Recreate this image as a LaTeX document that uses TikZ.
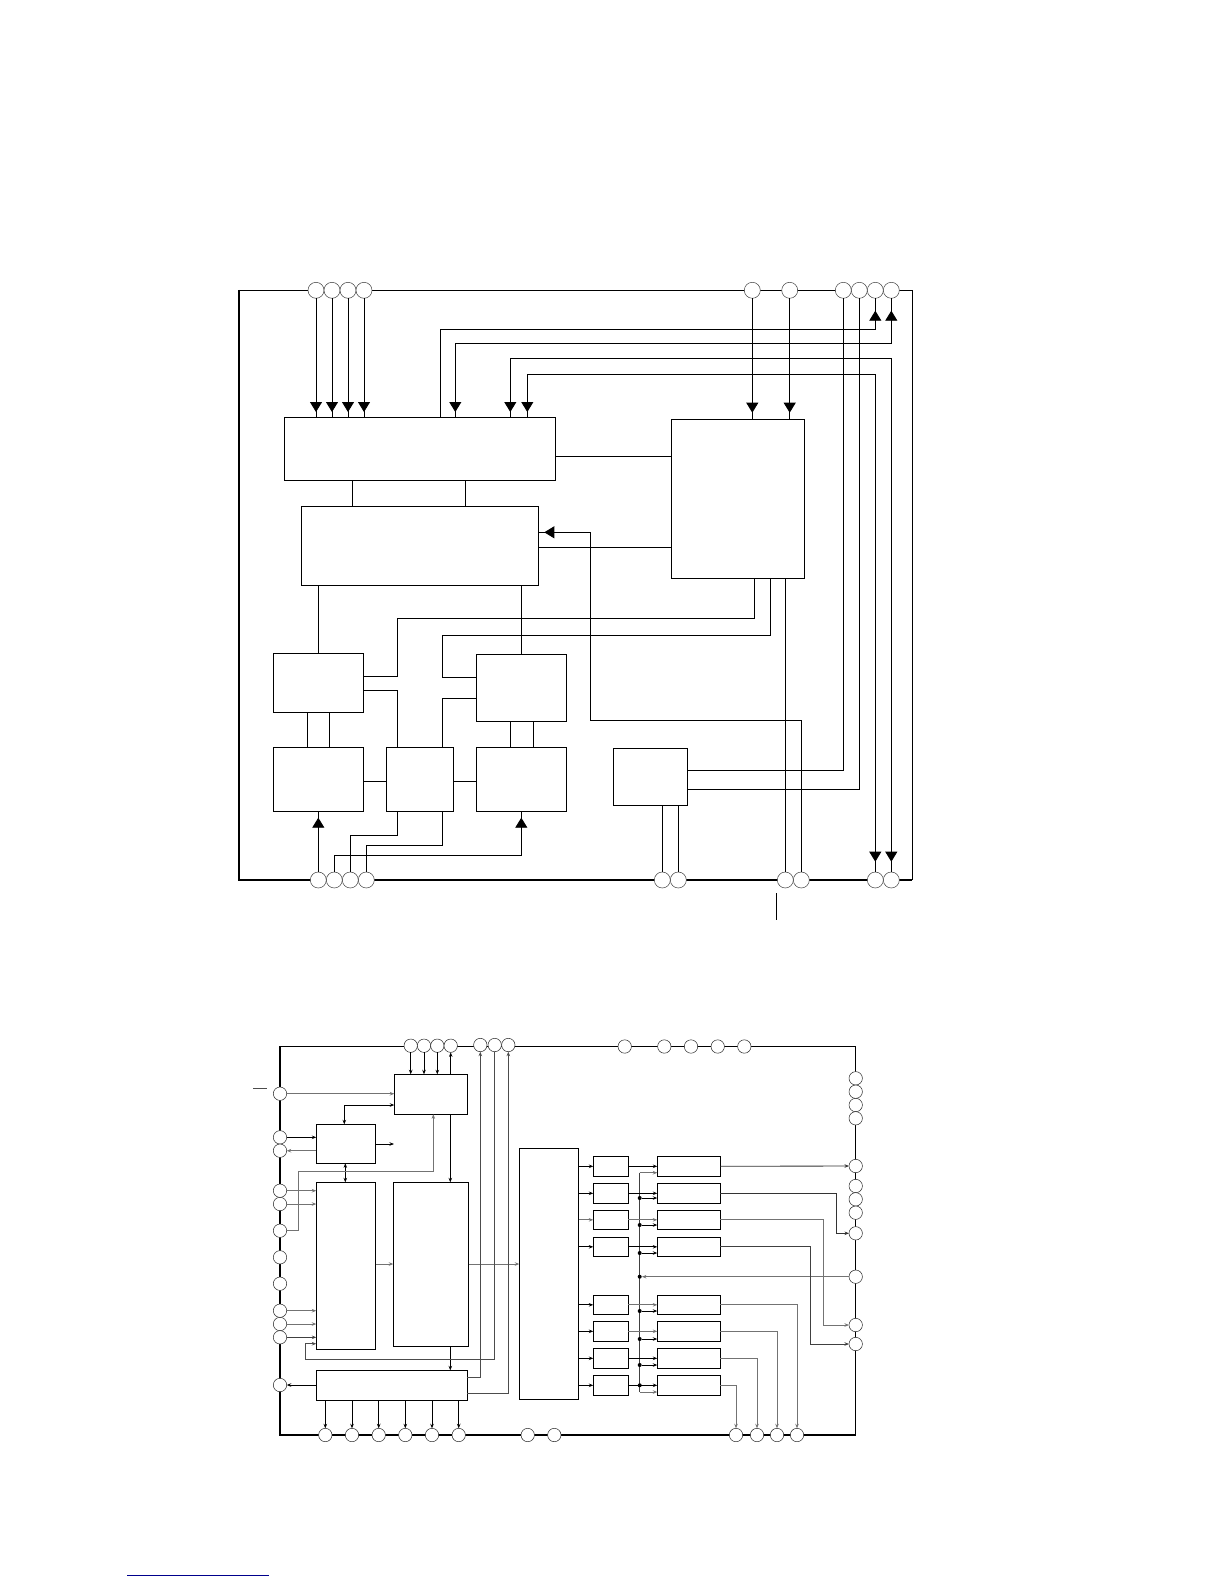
\documentclass[tikz,border=0pt]{standalone}
\usepackage{xcolor}
\definecolor{wiregray}{RGB}{115, 115, 115}
\definecolor{rulenavy}{RGB}{0, 0, 140}
\usetikzlibrary{arrows.meta, calc}
\tikzset{
    pad/.style={circle, draw=black!75, line width=0.5pt, fill=white, inner sep=0pt, outer sep=0pt, minimum size=16pt},
    smallpad/.style={pad, draw=black!85, minimum size=13.4pt},
    blk/.style={draw, line width=0.9pt, fill=white, inner sep=0pt, outer sep=0pt},
    wire/.style={line width=0.85pt},
    gwire/.style={line width=0.85pt, wiregray},
    headend/.style={postaction={draw, shorten >=#1, -{Triangle[width=12pt, length=10pt]}}},
    headstart/.style={postaction={draw, shorten <=#1, {Triangle[width=12pt, length=10pt]}-}},
    sarrow/.style={-{Stealth[length=4.5pt, width=3.5pt]}},
    darrow/.style={{Stealth[length=4.5pt, width=3.5pt]}-{Stealth[length=4.5pt, width=3.5pt]}},
    joint/.style={circle, fill=black, inner sep=0pt, minimum size=4pt}
}
\begin{document}
\begin{tikzpicture}[x=1pt, y=-1pt]
    \useasboundingbox (0, 0) rectangle (1224, 1584);

    % upper chip
    \draw[line width=0.9pt] (239, 290.3) -- (912.3, 290.3) -- (912.3, 880);
    \draw[line width=1.9pt] (239, 289.8) -- (239, 880) -- (912.3, 880);

    \node[pad] (ta1) at (316, 290.3) {};
    \node[pad] (ta2) at (332, 290.3) {};
    \node[pad] (ta3) at (348, 290.3) {};
    \node[pad] (ta4) at (364, 290.3) {};
    \node[pad] (tb1) at (752.3, 290.3) {};
    \node[pad] (tb2) at (789.7, 290.3) {};
    \node[pad] (tc1) at (843.3, 290.3) {};
    \node[pad] (tc2) at (859.3, 290.3) {};
    \node[pad] (tc3) at (875.3, 290.3) {};
    \node[pad] (tc4) at (891.3, 290.3) {};
    \node[pad] (ba1) at (318.3, 880) {};
    \node[pad] (ba2) at (334.3, 880) {};
    \node[pad] (ba3) at (350.3, 880) {};
    \node[pad] (ba4) at (366.3, 880) {};
    \node[pad] (bb1) at (662.3, 880) {};
    \node[pad] (bb2) at (678.3, 880) {};
    \node[pad] (bc1) at (785.3, 880) {};
    \node[pad] (bc2) at (801.3, 880) {};
    \node[pad] (bd1) at (875.3, 880) {};
    \node[pad] (bd2) at (891.3, 880) {};

    \node[blk, minimum width=271pt, minimum height=63pt] (boxa) at (419.8, 448.8) {};
    \node[blk, minimum width=237pt, minimum height=79pt] (boxb) at (419.8, 545.8) {};
    \node[blk, minimum width=133pt, minimum height=159pt] (boxc) at (737.8, 498.8) {};
    \node[blk, minimum width=90pt, minimum height=59pt] (boxd) at (318.3, 682.8) {};
    \node[blk, minimum width=90pt, minimum height=64pt] (boxe) at (318.3, 779.3) {};
    \node[blk, minimum width=67pt, minimum height=64pt] (boxf) at (419.8, 779.3) {};
    \node[blk, minimum width=90pt, minimum height=67pt] (boxg) at (521.3, 687.8) {};
    \node[blk, minimum width=90pt, minimum height=64pt] (boxh) at (521.3, 779.3) {};
    \node[blk, minimum width=74pt, minimum height=57pt] (boxi) at (650.3, 776.8) {};

    \draw[wire, headend=5.3pt] (ta1.south) -- (ta1 |- boxa.north);
    \draw[wire, headend=5.3pt] (ta2.south) -- (ta2 |- boxa.north);
    \draw[wire, headend=5.3pt] (ta3.south) -- (ta3 |- boxa.north);
    \draw[wire, headend=5.3pt] (ta4.south) -- (ta4 |- boxa.north);
    \draw[wire, headend=6.6pt] (tb1.south) -- (tb1 |- boxc.north);
    \draw[wire, headend=6.6pt] (tb2.south) -- (tb2 |- boxc.north);
    \draw[wire, headend=12.4pt] (440.7, 0 |- boxa.north) |- (tc3 |- 0, 329.3) -- (tc3.south);
    \draw[wire, headend=5.3pt, headstart=12.4pt] (tc4.south) |- (455.3, 343.3) -- (455.3, 0 |- boxa.north);
    \draw[wire, headend=5.3pt, headstart=10.3pt] (bd2.north) |- (510.3, 358.3) -- (510.3, 0 |- boxa.north);
    \draw[wire, headend=5.3pt, headstart=10.3pt] (bd1.north) |- (527.3, 374.3) -- (527.3, 0 |- boxa.north);
    \draw[wire] (tc1.south) |- (boxi.east |- 0, 770.3);
    \draw[wire] (tc2.south) |- (boxi.east |- 0, 789.3);
    \draw[wire] (boxa.east |- 0, 456.3) -- (boxc.west |- 0, 456.3);
    \draw[wire] (boxb.east |- 0, 547.3) -- (boxc.west |- 0, 547.3);
    \draw[wire] (boxa.south -| 352.3, 0) -- (boxb.north -| 352.3, 0);
    \draw[wire] (boxa.south -| 465.3, 0) -- (boxb.north -| 465.3, 0);
    \draw[wire, headend=6pt] (bc2.north) |- (590.3, 720) |- (boxb.east |- 0, 532.3);
    \draw[wire] (boxc.south -| bc1) -- (bc1.north);
    \draw[wire] (boxb.south -| boxd.north) -- (boxd.north);
    \draw[wire] (boxb.south -| boxg.north) -- (boxg.north);
    \draw[wire] (boxd.east |- 0, 676.3) -| (397.3, 618.3) -| (754.3, 0 |- boxc.south);
    \draw[wire] (boxd.east |- 0, 690.3) -| (397.3, 0 |- boxf.north);
    \draw[wire] (boxg.west |- 0, 677.3) -| (442.3, 635.3) -| (770.3, 0 |- boxc.south);
    \draw[wire] (boxg.west |- 0, 698.3) -| (442.3, 0 |- boxf.north);
    \draw[wire] (boxd.south -| 307.3, 0) -- (boxe.north -| 307.3, 0);
    \draw[wire] (boxd.south -| 329.3, 0) -- (boxe.north -| 329.3, 0);
    \draw[wire] (boxg.south -| 510.3, 0) -- (boxh.north -| 510.3, 0);
    \draw[wire] (boxg.south -| 533.3, 0) -- (boxh.north -| 533.3, 0);
    \draw[wire] (boxe.east |- 0, 781.3) -- (boxf.west |- 0, 781.3);
    \draw[wire] (boxf.east |- 0, 781.3) -- (boxh.west |- 0, 781.3);
    \draw[wire, headend=6.4pt] (ba1.north) -- (boxe.south);
    \draw[wire, headend=6.4pt] (ba2.north) |- (521.3, 855.3) -- (boxh.south);
    \draw[wire] (ba3.north) |- (397.3, 835.3) -- (397.3, 0 |- boxf.south);
    \draw[wire] (ba4.north) |- (442.3, 845.3) -- (442.3, 0 |- boxf.south);
    \draw[wire] (boxi.south -| bb1) -- (bb1.north);
    \draw[wire] (boxi.south -| bb2) -- (bb2.north);
    \draw[line width=0.8pt] (776.3, 893.3) -- (776.3, 920);

    % lower chip
    \draw[line width=1.5pt] (280, 1046.7) rectangle (855.7, 1435);

    \node[smallpad] (pa1) at (410.7, 1045.7) {};
    \node[smallpad] (pa2) at (424, 1045.7) {};
    \node[smallpad] (pa3) at (437.3, 1045.7) {};
    \node[smallpad] (pa4) at (450.7, 1045.7) {};
    \node[smallpad] (pb1) at (480.3, 1045) {};
    \node[smallpad] (pb2) at (494.7, 1045) {};
    \node[smallpad] (pb3) at (508.3, 1045) {};
    \node[smallpad] (pc1) at (624.7, 1046.5) {};
    \node[smallpad] (pc2) at (664.3, 1046.5) {};
    \node[smallpad] (pc3) at (691, 1046.5) {};
    \node[smallpad] (pc4) at (717.7, 1046.5) {};
    \node[smallpad] (pc5) at (744.3, 1046.5) {};
    \node[smallpad] (la1) at (280, 1093.7) {};
    \node[smallpad] (la2) at (280, 1137.3) {};
    \node[smallpad] (la3) at (280, 1150.7) {};
    \node[smallpad] (la4) at (280, 1190.7) {};
    \node[smallpad] (la5) at (280, 1204) {};
    \node[smallpad] (la6) at (280, 1230.7) {};
    \node[smallpad] (la7) at (280, 1257.3) {};
    \node[smallpad] (la8) at (280, 1283.7) {};
    \node[smallpad] (la9) at (280, 1310.7) {};
    \node[smallpad] (la10) at (280, 1324) {};
    \node[smallpad] (la11) at (280, 1337.3) {};
    \node[smallpad] (la12) at (280, 1385) {};
    \node[smallpad] (ra1) at (855.7, 1078.3) {};
    \node[smallpad] (ra2) at (855.7, 1091.7) {};
    \node[smallpad] (ra3) at (855.7, 1105) {};
    \node[smallpad] (ra4) at (855.7, 1118.3) {};
    \node[smallpad] (ra5) at (855.7, 1166) {};
    \node[smallpad] (ra6) at (855.7, 1186) {};
    \node[smallpad] (ra7) at (855.7, 1199.3) {};
    \node[smallpad] (ra8) at (855.7, 1212.7) {};
    \node[smallpad] (ra9) at (855.7, 1233.3) {};
    \node[smallpad] (ra10) at (855.7, 1276.7) {};
    \node[smallpad] (ra11) at (855.7, 1325) {};
    \node[smallpad] (ra12) at (855.7, 1344) {};
    \node[smallpad] (pd1) at (325.3, 1435) {};
    \node[smallpad] (pd2) at (352, 1435) {};
    \node[smallpad] (pd3) at (378.7, 1435) {};
    \node[smallpad] (pd4) at (405.3, 1435) {};
    \node[smallpad] (pd5) at (432, 1435) {};
    \node[smallpad] (pd6) at (458.7, 1435) {};
    \node[smallpad] (pe1) at (527.7, 1435) {};
    \node[smallpad] (pe2) at (554.3, 1435) {};
    \node[smallpad] (pf1) at (736, 1435) {};
    \node[smallpad] (pf2) at (757, 1435) {};
    \node[smallpad] (pf3) at (777, 1435) {};
    \node[smallpad] (pf4) at (797, 1435) {};

    \node[blk, minimum width=73pt, minimum height=40pt] (boxp) at (430.8, 1094.3) {};
    \node[blk, minimum width=59.4pt, minimum height=39pt] (boxq) at (346, 1143.8) {};
    \node[blk, minimum width=59.4pt, minimum height=167pt] (boxr) at (346, 1265.8) {};
    \node[blk, minimum width=75.4pt, minimum height=164pt] (boxs) at (431, 1264.3) {};
    \node[blk, minimum width=151pt, minimum height=30pt] (boxt) at (391.8, 1385.3) {};
    \node[blk, minimum width=59.4pt, minimum height=251.3pt] (boxu) at (549, 1273.65) {};

    \node[blk, minimum width=35pt, minimum height=20pt] (va1) at (610.8, 1166.3) {};
    \node[blk, minimum width=35pt, minimum height=20pt] (va2) at (610.8, 1193.3) {};
    \node[blk, minimum width=35pt, minimum height=19pt] (va3) at (610.8, 1219.8) {};
    \node[blk, minimum width=35pt, minimum height=19pt] (va4) at (610.8, 1246.8) {};
    \node[blk, minimum width=35pt, minimum height=19pt] (va5) at (610.8, 1304.8) {};
    \node[blk, minimum width=35pt, minimum height=20pt] (va6) at (610.8, 1331.3) {};
    \node[blk, minimum width=35pt, minimum height=20pt] (va7) at (610.8, 1358.3) {};
    \node[blk, minimum width=35pt, minimum height=20pt] (va8) at (610.8, 1385.3) {};
    \node[blk, minimum width=63pt, minimum height=20pt] (wa1) at (688.8, 1166.3) {};
    \node[blk, minimum width=63pt, minimum height=20pt] (wa2) at (688.8, 1193.3) {};
    \node[blk, minimum width=63pt, minimum height=19pt] (wa3) at (688.8, 1219.8) {};
    \node[blk, minimum width=63pt, minimum height=19pt] (wa4) at (688.8, 1246.8) {};
    \node[blk, minimum width=63pt, minimum height=19pt] (wa5) at (688.8, 1304.8) {};
    \node[blk, minimum width=63pt, minimum height=20pt] (wa6) at (688.8, 1331.3) {};
    \node[blk, minimum width=63pt, minimum height=20pt] (wa7) at (688.8, 1358.3) {};
    \node[blk, minimum width=63pt, minimum height=20pt] (wa8) at (688.8, 1385.3) {};

    \coordinate (busa) at (639.5, 1172.7);
    \coordinate (busb) at (639.5, 1392);
    \coordinate (qfree) at (394, 1144);
    \draw[wire, black!75] (busa) -- (busb);

    \node[joint] (ja2) at (639.7, 1198) {};
    \node[joint] (ja3) at (639.7, 1225) {};
    \node[joint] (ja4) at (639.7, 1253) {};
    \node[joint] (jc) at (639.7, 1276.7) {};
    \node[joint] (ja5) at (639.7, 1311) {};
    \node[joint] (ja6) at (639.7, 1339) {};
    \node[joint] (ja7) at (639.7, 1365) {};
    \node[joint] (ja8) at (639.7, 1385.3) {};

    \draw[wire, darrow] (boxq.north -| 344.3, 0) |- (boxp.west |- 0, 1105);
    \draw[gwire, sarrow] (la1.east) -- (boxp.west |- la1);
    \draw[wire, sarrow] (la2.east) -- (boxq.west |- la2);
    \draw[gwire, sarrow] (boxq.west |- la3) -- (la3.east);
    \draw[wire, sarrow] (boxq.east |- qfree) -- (qfree);
    \draw[wire, darrow] (boxq.south -| 345.3, 0) -- (boxr.north -| 345.3, 0);
    \draw[gwire, sarrow] (la4.east) -- (boxr.west |- la4);
    \draw[gwire, sarrow] (la5.east) -- (boxr.west |- la5);
    \draw[gwire, sarrow] (la6.east) -| (298.7, 1171.3) -| (433.3, 0 |- boxp.south);
    \draw[gwire, sarrow] (la9.east) -- (boxr.west |- la9);
    \draw[gwire, sarrow] (la10.east) -- (boxr.west |- la10);
    \draw[wire, sarrow, black!75] (la11.east) -- (boxr.west |- la11);
    \draw[wire, sarrow] (boxt.west |- la12) -- (la12.east);
    \draw[wire, sarrow] (boxp.south -| 450.3, 0) -- (boxs.north -| 450.3, 0);
    \draw[wire, sarrow] (boxs.south -| 450.3, 0) -- (boxt.north -| 450.3, 0);
    \draw[gwire, sarrow] (boxr.east |- 0, 1264) -- (boxs.west |- 0, 1264);
    \draw[gwire, sarrow] (boxs.east |- 0, 1264) -- (boxu.west |- 0, 1264);
    \draw[wire, sarrow] (pa1.south) -- (pa1 |- boxp.north);
    \draw[wire, sarrow] (pa2.south) -- (pa2 |- boxp.north);
    \draw[wire, sarrow] (pa3.south) -- (pa3 |- boxp.north);
    \draw[wire, sarrow] (boxp.north -| pa4) -- (pa4.south);
    \draw[gwire, black!70, sarrow] (boxt.east |- 0, 1377.7) -| (pb1.south);
    \draw[gwire, black!70, sarrow] (boxt.east |- 0, 1393.3) -| (pb3.south);
    \draw[gwire, black!70, sarrow] (pb2.south) |- (305.7, 1359.3) |- (boxr.west |- 0, 1343.7);
    \draw[wire, sarrow] (boxt.south -| pd1) -- (pd1.north);
    \draw[wire, sarrow] (boxt.south -| pd2) -- (pd2.north);
    \draw[wire, sarrow] (boxt.south -| pd3) -- (pd3.north);
    \draw[wire, sarrow] (boxt.south -| pd4) -- (pd4.north);
    \draw[wire, sarrow] (boxt.south -| pd5) -- (pd5.north);
    \draw[wire, sarrow] (boxt.south -| pd6) -- (pd6.north);

    \draw[wire, sarrow] (boxu.east |- va1) -- (va1.west);
    \draw[wire, sarrow] (boxu.east |- va2) -- (va2.west);
    \draw[gwire, sarrow] (boxu.east |- va3) -- (va3.west);
    \draw[wire, sarrow] (boxu.east |- va4) -- (va4.west);
    \draw[wire, sarrow] (boxu.east |- va5) -- (va5.west);
    \draw[wire, sarrow] (boxu.east |- va6) -- (va6.west);
    \draw[wire, sarrow] (boxu.east |- va7) -- (va7.west);
    \draw[wire, sarrow] (boxu.east |- va8) -- (va8.west);
    \draw[wire, sarrow] (va1.east) -- (wa1.west);
    \draw[wire, sarrow] (va2.east) -- (wa2.west);
    \draw[gwire, sarrow] (va3.east) -- (wa3.west);
    \draw[wire, sarrow] (va4.east) -- (wa4.west);
    \draw[gwire, sarrow] (va5.east) -- (wa5.west);
    \draw[gwire, sarrow] (va6.east) -- (wa6.west);
    \draw[wire, sarrow] (va7.east) -- (wa7.west);
    \draw[wire, sarrow] (va8.east) -- (wa8.west);
    \draw[gwire, sarrow] (busa) -- (wa1.west |- busa);
    \draw[wire, sarrow] (ja2) -- (wa2.west |- ja2);
    \draw[wire, sarrow] (ja3) -- (wa3.west |- ja3);
    \draw[wire, sarrow] (ja4) -- (wa4.west |- ja4);
    \draw[wire, sarrow] (ja5) -- (wa5.west |- ja5);
    \draw[wire, sarrow] (ja6) -- (wa6.west |- ja6);
    \draw[wire, sarrow] (ja7) -- (wa7.west |- ja7);
    \draw[gwire, sarrow] (busb) -- (wa8.west |- busb);
    \draw[gwire, sarrow] (ra10.west) -- (jc);

    \draw[wire, sarrow, black!80] (wa1.east) -- (ra5.west);
    \draw[wire, sarrow, black!80] (wa2.east) -| (836.3, 1233.3) -- (ra9.west);
    \draw[gwire, sarrow] (wa3.east) -| (823.7, 1325) -- (ra11.west);
    \draw[wire, sarrow, black!75] (wa4.east) -| (810.7, 1344) -- (ra12.west);
    \draw[gwire, sarrow] (wa5.east) -| (pf4.north);
    \draw[gwire, sarrow] (wa6.east) -| (pf3.north);
    \draw[gwire, sarrow] (wa7.east) -| (pf2.north);
    \draw[gwire, sarrow] (wa8.east) -| (pf1.north);
    \draw[line width=0.7pt, black!70] (253.3, 1088.7) -- (267.3, 1088.7);

    % rule at the foot of the page
    \draw[line width=1pt, rulenavy] (127, 1575) -- (268.7, 1575);
\end{tikzpicture}
\end{document}
